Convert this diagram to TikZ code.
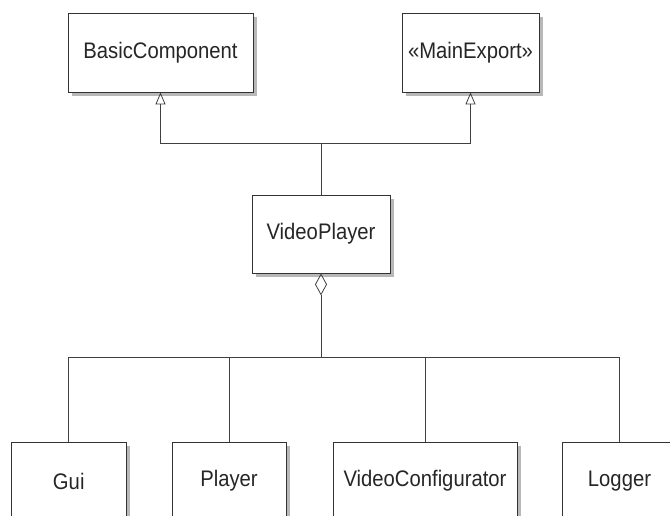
\documentclass[tikz,border=0pt]{standalone}
\usepackage{fontspec}
\setmainfont{Liberation Sans}[FakeStretch=0.9]
\usetikzlibrary{arrows.meta,shadows}
\begin{document}
\begin{tikzpicture}[x=1pt,y=-1pt,
  cls/.style={draw=black!80, line width=0.8pt, fill=white,
    font=\fontsize{22.5}{26}\selectfont, text=black!85, inner sep=0pt,
    drop shadow={shadow xshift=4pt, shadow yshift=-4pt, fill=black!28, opacity=1}},
  wire/.style={draw=black!75, line width=0.8pt},
  gen/.style={wire, -{Triangle[open, length=12pt, width=10pt]}},
  agg/.style={wire, {Diamond[open, length=22pt, width=12pt]}-},
]
\useasboundingbox (0,0) rectangle (670,516);
\clip (0,0) rectangle (670,516);

% classes
\node[cls, minimum width=185pt, minimum height=79pt] (bc) at (160.5,52.5) {BasicComponent};
\node[cls, minimum width=137pt, minimum height=79pt] (me) at (470.5,52.5) {«MainExport»};
\node[cls, minimum width=138pt, minimum height=78pt] (vp) at (321,234) {VideoPlayer};
\node[cls, minimum width=114.5pt, minimum height=78pt] (gui) at (68.75,481) {Gui};
\node[cls, minimum width=114pt, minimum height=78pt] (pl) at (229,481) {Player};
\node[cls, minimum width=184pt, minimum height=78pt] (vc) at (425,481) {VideoConfigurator};
\node[cls, minimum width=115pt, minimum height=78pt] (lg) at (619.5,481) {Logger};

% generalisation
\coordinate (up) at (321,143);
\draw[wire] (vp.north) -- (up);
\draw[gen] (up) -| (bc.south);
\draw[gen] (up) -| (me.south);

% aggregation
\coordinate (dn) at (321,357.5);
\draw[agg] (vp.south) -- (dn);
\draw[wire] (dn) -| (gui.north);
\draw[wire] (dn) -| (pl.north);
\draw[wire] (dn) -| (vc.north);
\draw[wire] (dn) -| (lg.north);
\end{tikzpicture}
\end{document}
